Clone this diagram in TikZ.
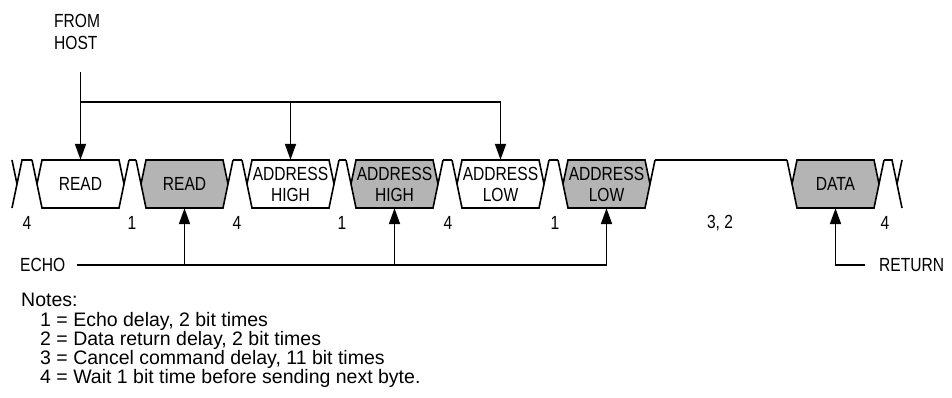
\documentclass[tikz,border=0pt]{standalone}
\usepackage{fontspec}
\setmainfont{Liberation Sans}
\newfontfamily\narrowfont[FakeStretch=0.82]{Liberation Sans}
\usepackage{xcolor}
\usepackage{tikz}
\usetikzlibrary{positioning, arrows.meta}
\definecolor{bytegray}{HTML}{B4B4B4}

\begin{document}
\begin{tikzpicture}[x=1pt, y=-1pt,
    every node/.style={font=\narrowfont\fontsize{19}{21}\selectfont},
    bus/.style={line width=1.6pt},
    sig/.style={line width=1.9pt, -{Triangle[length=16pt, width=11pt]}},
    bytebox/.style={minimum width=77pt, minimum height=48pt, inner sep=0pt, align=center},
    notetext/.style={font=\fontsize{19.5}{18}\selectfont, anchor=base west, inner sep=0pt}
]
\useasboundingbox (0,0) rectangle (952,398);

% serial bytes on the line
\foreach \L/\col/\nm/\txt in {42/white/hostrd/READ, 146/bytegray/echord/READ,
    252/white/hostah/{ADDRESS\\HIGH}, 356/bytegray/echoah/{ADDRESS\\HIGH},
    462/white/hostal/{ADDRESS\\LOW}, 568/bytegray/echoal/{ADDRESS\\LOW},
    797/bytegray/retdata/DATA} {
    \draw[bus, fill=\col] (\L,160) -- (\L-5,184) -- (\L,208) -- (\L+77,208)
        -- (\L+82,184) -- (\L+77,160) -- cycle;
    \draw[bus] (\L-5,184) -- (\L-10,160);
    \draw[bus] (\L+82,184) -- (\L+87,160);
    \node[bytebox] (\nm) at (\L+38.5,184) {\txt};
}
% idle line between bytes
\draw[bus] (12,160) -- (17,184);
\draw[bus] (12,208) -- (22,160) -- (32,160);
\foreach \a/\b in {129/136, 233/242, 339/346, 443/452, 549/558, 655/787}
    \draw[bus] (\a,160) -- (\b,160);
\draw[bus] (884,160) -- (892,160) -- (902,208);
\draw[bus] (902,160) -- (897,184);

% delay numbers
\foreach \x/\t [count=\i] in {27/4, 132/1, 237/4, 342/1, 448/4, 555/1, 720/{3, 2}, 885/4}
    \node (dly\i) at (\x,223) {\t};

% from host
\node[align=left, anchor=west, inner sep=0pt, font=\narrowfont\fontsize{19}{22}\selectfont]
    (fromhost) at (54,32) {FROM\\HOST};
\coordinate (hosttop) at ([yshift=88pt]hostrd.north);
\coordinate (hostbar) at ([yshift=58pt]hostrd.north);
\draw[sig] (hosttop) -- (hostrd.north);
\draw[sig] (hostbar) -| (hostal.north);
\draw[sig] (hostbar -| hostah.north) -- (hostah.north);

% echo
\node[anchor=west, inner sep=0pt] (echo) at (20,265) {ECHO};
\draw[sig] ([xshift=12pt]echo.east) -| (echoal.south);
\draw[sig] (echo -| echord.south) -- (echord.south);
\draw[sig] (echo -| echoah.south) -- (echoah.south);

% return
\node[anchor=west, inner sep=0pt] (return) at (879,265) {RETURN};
\draw[sig] ([xshift=-14pt]return.west) -| (retdata.south);

% notes
\node[notetext] (notes) at (21,306) {Notes:};
\foreach \t [count=\i] in {1 = Echo delay{,} 2 bit times, 2 = Data return delay{,} 2 bit times,
    3 = Cancel command delay{,} 11 bit times, 4 = Wait 1 bit time before sending next byte.}
    \node[notetext] (note\i) at (40,{326+19*(\i-1)}) {\t};
\end{tikzpicture}
\end{document}
